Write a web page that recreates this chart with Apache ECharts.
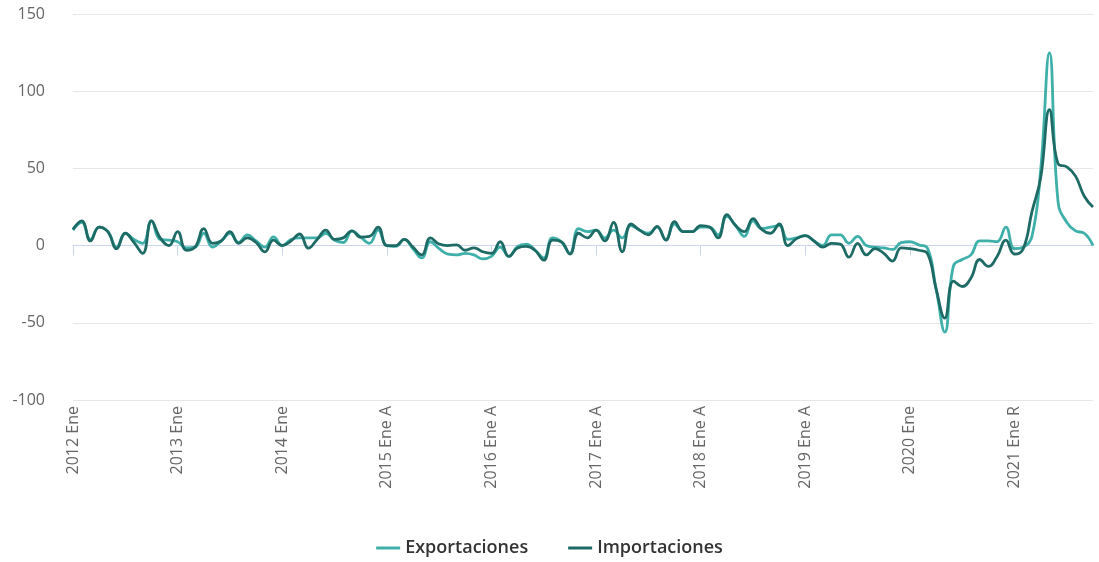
<!DOCTYPE html>
<html>
<head>
<meta charset="utf-8">
<script src="https://cdn.jsdelivr.net/npm/echarts@6/dist/echarts.min.js"></script>
<style>
html,body{margin:0;padding:0;background:#fff;}
#chart{width:1099px;height:562px;}
</style>
</head>
<body>
<div id="chart"></div>
<script>
var years = [2012, 2013, 2014, 2015, 2016, 2017, 2018, 2019, 2020, 2021];
var months = ["Ene","Feb","Mar","Abr","May","Jun","Jul","Ago","Sep","Oct","Nov","Dic"];
var tickLabels = ["2012 Ene","2013 Ene","2014 Ene","2015 Ene A","2016 Ene A","2017 Ene A","2018 Ene A","2019 Ene A","2020 Ene","2021 Ene R"];
var monthsLastYear = 10;

var exportaciones = [
  10, 15, 4, 12, 9, -1, 8, 4, 1.5, 16, 4, 3.5,
  2.5, -1.5, -1, 8, -1, 3, 8, 2, 7, 3, -1, 5.7,
  0, 4, 5, 5, 5, 8, 3.5, 2, 9.6, 5.5, 1.5, 10,
  0, -0.5, 4, -2, -8, 2.5, -2, -5.5, -6, -5, -6, -8.6,
  -7, -1, -7, -0.5, 1, -3, -8, 5, 2.5, -5, 11, 9,
  10, 5, 10, 5, 13, 10, 8, 12, 4, 14, 9, 9,
  12, 12, 7, 19, 13, 6, 16, 11, 12, 13, 4, 5,
  6.5, 3, 0, 7, 7, 1.5, 6, 0, -1, -1.5, -2.5, 2,
  2.5, 0.5, -1.5, -28, -56, -13, -9, -6, 3, 3, 2.5, 12,
  -2, -1, 6, 49, 125, 28, 15, 9.5, 8, 0
];
var importaciones = [
  10.5, 16, 3, 12, 9, -2, 8, 2, -5, 16, 5, 0,
  9, -3, -1, 11, 1.5, 3, 9, 1.5, 5, 2, -4, 3.5,
  0, 3, 7.5, -1.7, 4, 10, 4, 5, 9.6, 5.5, 6, 12,
  0, 0, 4, -1, -6, 5, 1, 0, 0.5, -3, -1.5, -4,
  -5, 2.5, -7, -1.5, -0.5, -3, -9.4, 3.5, 2.5, -5.5, 8, 5,
  10, 3, 15, -4, 14, 10, 7, 12.5, 3.5, 15.5, 9, 9,
  13, 12, 5, 20, 13, 9, 17.5, 10.5, 8, 14, 0, 4.5,
  6.5, 3, -1, 1.5, 1, -7.5, 1.5, -6, -2, -5, -10, -1.5,
  -2, -3, -5, -28, -47, -23, -26.5, -21, -9, -13.5, -7, 3.5,
  -5.5, -2, 22, 44, 88, 53, 51, 45, 32, 25
];

var categories = [];
years.forEach(function (y, yi) {
  var n = (yi === years.length - 1) ? monthsLastYear : 12;
  for (var m = 0; m < n; m++) {
    categories.push(m === 0 ? tickLabels[yi] : (y + " " + months[m]));
  }
});

var chart = echarts.init(document.getElementById('chart'), null, {renderer: 'canvas'});
var everyYear = function (idx) { return idx % 12 === 0; };
chart.setOption({
  animation: false,
  grid: {left: 73, right: 6, top: 14, bottom: 162, containLabel: false},
  legend: {
    bottom: 0,
    left: 'center',
    icon: 'rect',
    itemWidth: 24,
    itemHeight: 3,
    itemGap: 40,
    textStyle: {fontFamily: 'Open Sans', fontWeight: 600, fontSize: 18, color: '#333'},
    data: ['Exportaciones', 'Importaciones']
  },
  xAxis: {
    type: 'category',
    data: categories,
    boundaryGap: false,
    axisLine: {lineStyle: {color: '#ccd6eb', width: 1}},
    axisTick: {show: true, interval: everyYear, length: 10, lineStyle: {color: '#ccd6eb'}},
    axisLabel: {
      interval: everyYear,
      rotate: 90,
      margin: 6,
      color: '#666',
      fontFamily: 'Open Sans',
      fontSize: 16
    },
    splitLine: {show: false}
  },
  yAxis: {
    type: 'value',
    min: -100,
    max: 150,
    interval: 50,
    axisLine: {show: false},
    axisTick: {show: false},
    axisLabel: {color: '#666', fontFamily: 'Open Sans', fontSize: 16, margin: 28},
    splitLine: {lineStyle: {color: '#e6e6e6', width: 1}}
  },
  series: [
    {
      name: 'Exportaciones',
      type: 'line',
      data: exportaciones,
      smooth: 0.45,
      symbol: 'none',
      lineStyle: {color: '#3fb0a9', width: 2.8},
      itemStyle: {color: '#3fb0a9'}
    },
    {
      name: 'Importaciones',
      type: 'line',
      data: importaciones,
      smooth: 0.45,
      symbol: 'none',
      lineStyle: {color: '#1e6b66', width: 2.8},
      itemStyle: {color: '#1e6b66'}
    }
  ]
});
</script>
</body>
</html>
